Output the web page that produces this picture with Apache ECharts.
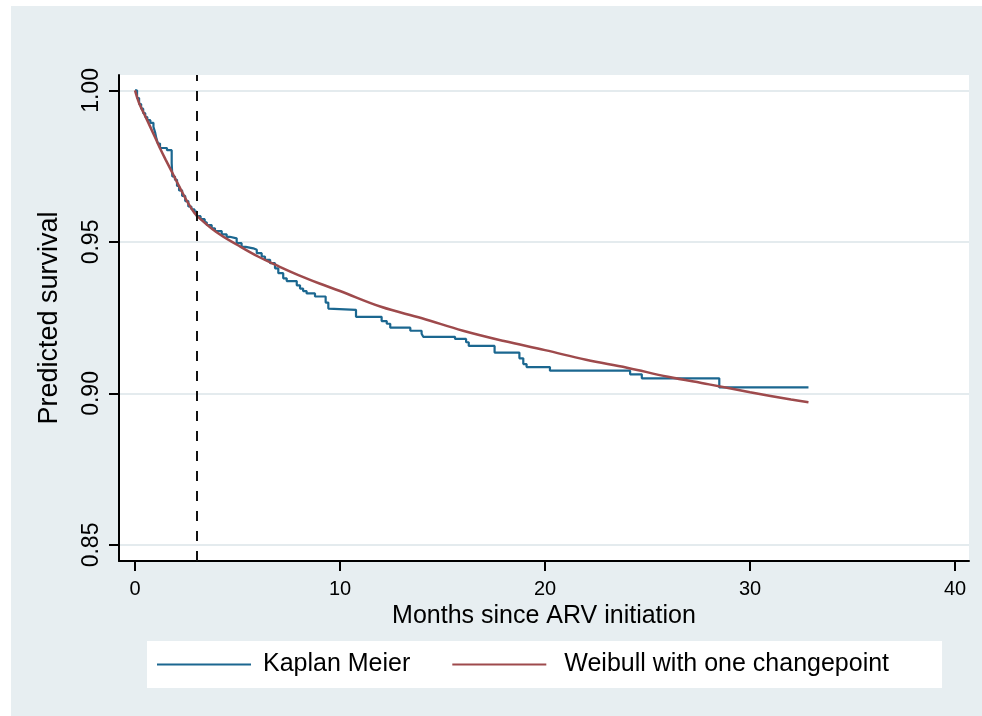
<!DOCTYPE html>
<html><head><meta charset="utf-8">
<script src="https://cdn.jsdelivr.net/npm/echarts@6/dist/echarts.min.js"></script>
<style>
html,body{margin:0;padding:0;background:#fff;width:982px;height:716px;overflow:hidden}
#c{position:absolute;left:11px;top:6px;width:971px;height:710px;background:#E7EEF1}
</style>
</head><body><div id="c"></div>
<script>
// Kaplan-Meier estimate: event times (months) and survival after each step
const kmTime = [0,0.1,0.2,0.3,0.4,0.5,0.6,0.75,0.9,0.98,1.05,1.12,1.22,1.56,1.79,1.82,1.95,2.05,2.15,2.3,2.45,2.6,2.75,2.9,3.01,3.2,3.4,3.5,3.74,3.9,4.23,4.47,4.62,4.96,5.2,5.4,5.77,5.94,6.18,6.34,6.59,6.83,6.99,7.23,7.4,7.89,8.05,8.2,8.37,8.78,9.3,9.43,9.51,10.78,12.03,12.28,12.45,13.43,13.98,14.06,15.61,16.15,16.28,17.54,18.75,18.94,19.1,20.24,24.15,24.72,28.5,32.85];
const kmSurv = [1.000,0.9975,0.9955,0.9940,0.9925,0.9912,0.9902,0.9893,0.9880,0.9862,0.9840,0.9825,0.9810,0.9803,0.9760,0.9716,0.9705,0.9685,0.9670,0.9652,0.9635,0.9617,0.9608,0.9600,0.9585,0.9575,0.9565,0.9556,0.9545,0.9536,0.9525,0.9517,0.9512,0.9496,0.9484,0.9479,0.9474,0.9463,0.9452,0.9441,0.9430,0.9413,0.9397,0.9380,0.9371,0.9357,0.9346,0.9338,0.9330,0.9320,0.9300,0.9280,0.9276,0.9253,0.9239,0.9230,0.9217,0.9207,0.9197,0.9187,0.9180,0.9169,0.9157,0.9135,0.9116,0.9097,0.9087,0.9075,0.9063,0.9050,0.9020,0.9020];
// Weibull model with one changepoint: read-off points
const wbTime = [0,0.1,0.25,0.5,0.75,1,1.25,1.5,1.75,2,2.25,2.5,2.75,3,4,5,6,7,8,9,10,12,14,16,18,20,22,24,26,28,30,32,32.85];
const wbSurv = [1.000,0.9978,0.9950,0.9915,0.9879,0.9842,0.9805,0.9771,0.9738,0.9704,0.9671,0.9639,0.9611,0.9588,0.9531,0.9490,0.9452,0.9420,0.9390,0.9363,0.9338,0.9286,0.9248,0.9207,0.9173,0.9143,0.9111,0.9085,0.9055,0.9030,0.9004,0.8980,0.8971];
const changepoint = [3];
const xTicks = [0,10,20,30,40];
const yTicks = [0.85,0.90,0.95,1.00];
const seriesNames = ['Kaplan Meier','Weibull with one changepoint'];

const FONT = '"Liberation Sans", Arial, Helvetica, sans-serif';
const chart = echarts.init(document.getElementById('c'), null, {renderer:'canvas'});
const axisLine = {show:true, onZero:false, lineStyle:{color:'#000', width:2}};
const option = {
  animation:false,
  backgroundColor:'transparent',
  textStyle:{fontFamily:FONT},
  grid:{left:108, top:69, right:13, bottom:155, show:true, backgroundColor:'#fff', borderWidth:0},
  legend:{
    left:136, top:635, orient:'horizontal', data:seriesNames,
    backgroundColor:'#fff', padding:[11,53,11,10],
    icon:'rect', itemWidth:94, itemHeight:2, itemGap:42, selectedMode:false,
    formatter:function(n){ return n === seriesNames[0] ? '{a|' + n + '}' : '{b|' + n + '}'; },
    textStyle:{fontSize:25, color:'#000', fontFamily:FONT,
      rich:{
        a:{fontSize:25, color:'#000', fontFamily:FONT, padding:[0,0,0,7]},
        b:{fontSize:25, color:'#000', fontFamily:FONT, padding:[0,0,0,13]}
      }}
  },
  xAxis:{
    type:'value', min:-0.78, max:40.68,
    name:'Months since ARV initiation', nameLocation:'middle', nameGap:40,
    nameTextStyle:{fontSize:25, color:'#000', fontFamily:FONT},
    axisLine:axisLine,
    axisTick:{show:true, length:10, customValues:xTicks, lineStyle:{color:'#000', width:2}},
    axisLabel:{customValues:xTicks, fontSize:20, color:'#000', margin:18, fontFamily:FONT},
    splitLine:{show:false}
  },
  yAxis:{
    type:'value', min:0.8447, max:1.0051,
    name:'Predicted survival', nameLocation:'middle', nameGap:56, nameRotate:90,
    nameTextStyle:{fontSize:27, color:'#000', fontFamily:FONT},
    axisLine:axisLine,
    axisTick:{show:true, length:10, customValues:yTicks, lineStyle:{color:'#000', width:2}},
    axisLabel:{customValues:yTicks, rotate:90, fontSize:23, color:'#000', margin:16, fontFamily:FONT,
      formatter:function(v){return v.toFixed(2);}},
    splitLine:{show:true, lineStyle:{color:'#E4EBEE', width:2}}
  },
  series:[
    {
      name:seriesNames[0], type:'line', step:'end', symbol:'none',
      data:kmTime.map(function(t,i){return [t, kmSurv[i]];}),
      lineStyle:{color:'#1B6790', width:2.2}, itemStyle:{color:'#1B6790'}, z:3,
      markLine:{symbol:'none', silent:true, animation:false, label:{show:false},
        lineStyle:{type:[10,10], color:'#111', width:2},
        data:changepoint.map(function(c){return {xAxis:c};})}
    },
    {
      name:seriesNames[1], type:'line', smooth:0.4, symbol:'none',
      data:wbTime.map(function(t,i){return [t, wbSurv[i]];}),
      lineStyle:{color:'#9E4A4C', width:2.5}, itemStyle:{color:'#9E4A4C'}, z:4
    }
  ]
};
chart.setOption(option);
</script></body></html>
